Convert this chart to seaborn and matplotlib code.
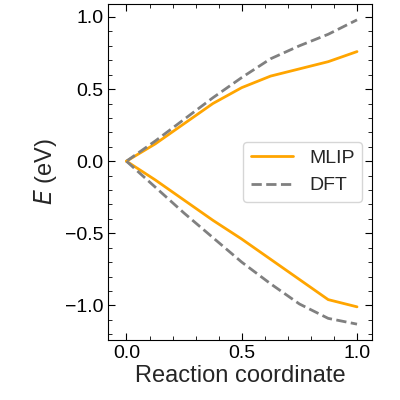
import matplotlib
matplotlib.use('Agg')
import matplotlib.pyplot as plt
import seaborn as sns

sns.set_style('ticks')
plt.rcParams['font.family'] = ['Liberation Sans', 'DejaVu Sans']
plt.rcParams['font.size'] = 14

x = [0.0, 0.125, 0.25, 0.375, 0.5, 0.625, 0.75, 0.875, 1.0]
mlip_up = [0.0, 0.12, 0.26, 0.40, 0.51, 0.59, 0.64, 0.69, 0.76]
dft_up = [0.0, 0.14, 0.29, 0.44, 0.58, 0.71, 0.80, 0.88, 0.98]
mlip_dn = [0.0, -0.13, -0.27, -0.41, -0.54, -0.68, -0.82, -0.96, -1.01]
dft_dn = [0.0, -0.18, -0.36, -0.53, -0.70, -0.85, -0.99, -1.09, -1.13]

fig, ax = plt.subplots(figsize=(4, 4), dpi=100)
sns.lineplot(x=x, y=mlip_up, color='orange', lw=2, ax=ax, label='MLIP')
sns.lineplot(x=x, y=dft_up, color='gray', lw=2, ls='--', ax=ax, label='DFT')
sns.lineplot(x=x, y=mlip_dn, color='orange', lw=2, ax=ax)
sns.lineplot(x=x, y=dft_dn, color='gray', lw=2, ls='--', ax=ax)

ax.set_xlim(-0.08, 1.065)
ax.set_ylim(-1.24, 1.09)
ax.set_xticks([0.0, 0.5, 1.0])
ax.set_yticks([-1.0, -0.5, 0.0, 0.5, 1.0])
ax.minorticks_on()
ax.tick_params(which='both', direction='in', top=True, right=True, colors='black')
ax.tick_params(which='major', length=5)
ax.tick_params(which='minor', length=3)
for s in ax.spines.values():
    s.set_color('black')
ax.set_xlabel('Reaction coordinate', fontsize=17, labelpad=2)
ax.set_ylabel('$E$ (eV)', fontsize=17)
ax.legend(loc='center right', fontsize=14, handlelength=2.2)
fig.subplots_adjust(left=0.27, right=0.93, bottom=0.15, top=0.99)
fig.savefig('out.png')
